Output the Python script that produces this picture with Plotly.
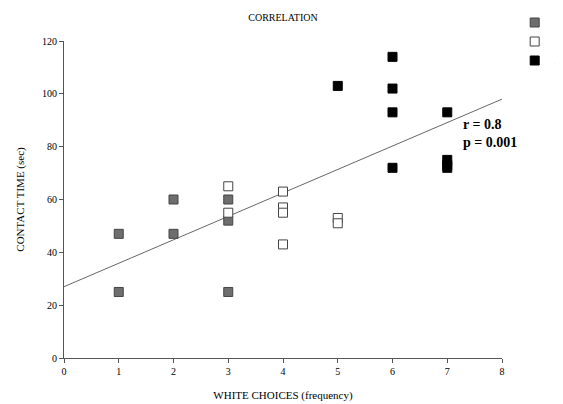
import plotly.graph_objects as go

av_x = [1, 1, 2, 2, 3, 3, 3]
av_y = [47, 25, 60, 47, 60, 52, 25]
ba_x = [3, 3, 4, 4, 4, 4, 5, 5]
ba_y = [65, 55, 63, 57, 55, 43, 53, 51]
ap_x = [5, 6, 6, 6, 6, 7, 7, 7, 7]
ap_y = [103, 114, 102, 93, 72, 93, 75, 73, 72]
fit_x = [0, 8]
fit_y = [27, 98]

f = dict(family="Liberation Serif", color="black")
fig = go.Figure()
fig.add_trace(go.Scatter(x=fit_x, y=fit_y, mode="lines", line=dict(color="#666", width=1), showlegend=False))
mk = dict(symbol="square", size=9, line=dict(color="#444", width=1))
fig.add_trace(go.Scatter(x=av_x, y=av_y, mode="markers", name="AV", marker=dict(mk, color="#6e6e6e")))
fig.add_trace(go.Scatter(x=ba_x, y=ba_y, mode="markers", name="BA", marker=dict(mk, color="white")))
fig.add_trace(go.Scatter(x=ap_x, y=ap_y, mode="markers", name="AP", marker=dict(mk, color="black", line=dict(color="black", width=1))))
ax = dict(showgrid=False, zeroline=False, showline=True, linecolor="#555", ticks="outside",
          ticklen=4, tickcolor="#555", tickfont=dict(f, size=10))
fig.update_layout(
    width=563, height=404, plot_bgcolor="white", paper_bgcolor="white",
    margin=dict(l=56, r=69, t=33, b=54, autoexpand=False), font=f,
    title=dict(text="CORRELATION", x=0.5, xref="paper", y=0.985, font=dict(f, size=10)),
    xaxis=dict(ax, range=[0, 8], dtick=1, title=dict(text="WHITE CHOICES (frequency)", font=dict(f, size=11))),
    yaxis=dict(ax, range=[0, 120], dtick=20, title=dict(text="CONTACT TIME (sec)", font=dict(f, size=11))),
    legend=dict(x=0.9, y=1.0, xref="container", yref="container", xanchor="left", yanchor="top",
                font=dict(f, size=10), tracegroupgap=0, itemwidth=30, bgcolor="rgba(0,0,0,0)"),
    annotations=[dict(text="<b>r = 0.8<br>p = 0.001</b>", x=7.25, y=85, xref="x", yref="y",
                      showarrow=False, align="left", xanchor="left", font=dict(f, size=14))],
)
fig.write_html("out.html")
